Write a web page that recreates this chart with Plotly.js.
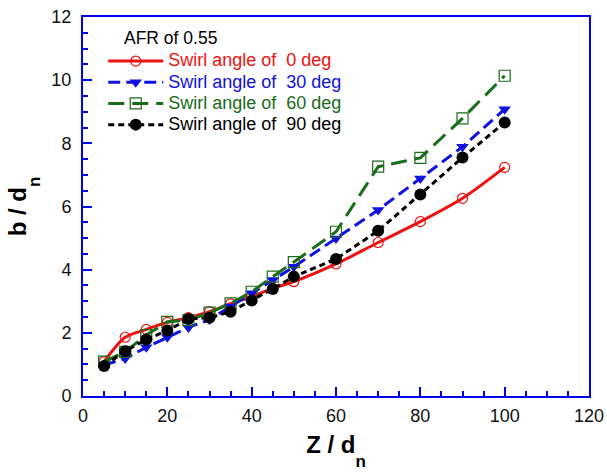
<!DOCTYPE html>
<html>
<head>
<meta charset="utf-8">
<script src="https://cdn.plot.ly/plotly-3.0.1.min.js"></script>
<style>body{margin:0;padding:0;background:#fff}#chart{width:607px;height:472px}</style>
</head>
<body>
<div id="chart"></div>
<script>
const zd = [5, 10, 15, 20, 25, 30, 35, 40, 45, 50, 60, 70, 80, 90, 100];
const swirl0  = [1.09, 1.86, 2.11, 2.33, 2.48, 2.67, 2.92, 3.15, 3.41, 3.62, 4.18, 4.86, 5.52, 6.26, 7.24];
const swirl30 = [0.98, 1.19, 1.54, 1.86, 2.17, 2.42, 2.83, 3.25, 3.67, 4.09, 4.99, 5.89, 6.89, 7.89, 9.08];
const swirl60 = [1.09, 1.40, 1.93, 2.35, 2.40, 2.64, 2.93, 3.30, 3.78, 4.24, 5.20, 7.26, 7.54, 8.79, 10.14];
const swirl90 = [0.95, 1.42, 1.79, 2.07, 2.44, 2.48, 2.67, 3.02, 3.39, 3.78, 4.34, 5.23, 6.38, 7.55, 8.66];
const names = ['Swirl angle of&nbsp; 0 deg', 'Swirl angle of&nbsp; 30 deg', 'Swirl angle of&nbsp; 60 deg', 'Swirl angle of&nbsp; 90 deg'];
const colors = ['#ee1111', '#1010e0', '#1a6b1a', '#000000'];

function legName(i) {
  return '<span style="color:' + colors[i] + ';font-size:18px">' + names[i] + '</span>';
}

const traces = [
  {x: zd, y: swirl0, mode: 'lines+markers', line: {color: colors[0], width: 3, shape: 'spline', smoothing: 0.8},
   marker: {symbol: 'circle-open', size: 10, color: colors[0], line: {width: 1.2}}, name: legName(0)},
  {x: zd, y: swirl30, mode: 'lines+markers', line: {color: colors[1], width: 3, dash: '12px,6px'},
   marker: {symbol: 'triangle-down', size: 11, color: colors[1]}, name: legName(1)},
  {x: zd, y: swirl60, mode: 'lines+markers', line: {color: colors[2], width: 3, dash: '16px,8px'},
   marker: {symbol: 'square-open', size: 11, color: colors[2], line: {width: 1.2}}, name: legName(2)},
  {x: zd, y: swirl90, mode: 'lines+markers', line: {color: colors[3], width: 3, dash: '6px,4px'},
   marker: {symbol: 'circle', size: 12, color: colors[3]}, name: legName(3)}
];

const axisCommon = {
  showline: true, linecolor: '#0000ee', linewidth: 2, mirror: true,
  ticks: 'inside', tickcolor: '#0000ee', tickwidth: 2, ticklen: 9,
  showgrid: false, zeroline: false,
  tickfont: {family: 'Liberation Sans, Arial, sans-serif', size: 18, color: '#111'}
};

const layout = {
  width: 607, height: 472,
  margin: {l: 83, r: 18, t: 17, b: 76},
  paper_bgcolor: '#fff', plot_bgcolor: '#fff',
  font: {family: 'Liberation Sans, Arial, sans-serif'},
  xaxis: Object.assign({}, axisCommon, {
    range: [0, 120], dtick: 20, tick0: 0, ticklabelstandoff: 2,
    minor: {dtick: 5, ticks: 'inside', ticklen: 5, tickcolor: '#0000ee', tickwidth: 2},
    title: {text: '<b>Z / d<span style="font-size:17px;baseline-shift:-14px">n</span></b>', font: {size: 24, color: '#000'}, standoff: 12}
  }),
  yaxis: Object.assign({}, axisCommon, {
    range: [0, 12], dtick: 2, tick0: 0, ticklabelstandoff: 6,
    minor: {dtick: 0.5, ticks: 'inside', ticklen: 5, tickcolor: '#0000ee', tickwidth: 2},
    title: {text: '<b>b / d<span style="font-size:17px;baseline-shift:-14px">n</span></b>', font: {size: 24, color: '#000'}, standoff: 18}
  }),
  showlegend: true,
  legend: {x: 0.04, y: 0.925, xanchor: 'left', yanchor: 'top', bgcolor: 'rgba(0,0,0,0)',
    font: {size: 14, family: 'Liberation Sans, Arial, sans-serif'}, itemwidth: 55, tracegroupgap: 0},
  annotations: [{text: 'AFR of 0.55', xref: 'paper', yref: 'paper', x: 0.077, y: 0.975, xanchor: 'left', yanchor: 'top',
    showarrow: false, font: {size: 17.5, color: '#000'}}]
};

Plotly.newPlot('chart', traces, layout, {displayModeBar: false, staticPlot: true});
</script>
</body>
</html>
